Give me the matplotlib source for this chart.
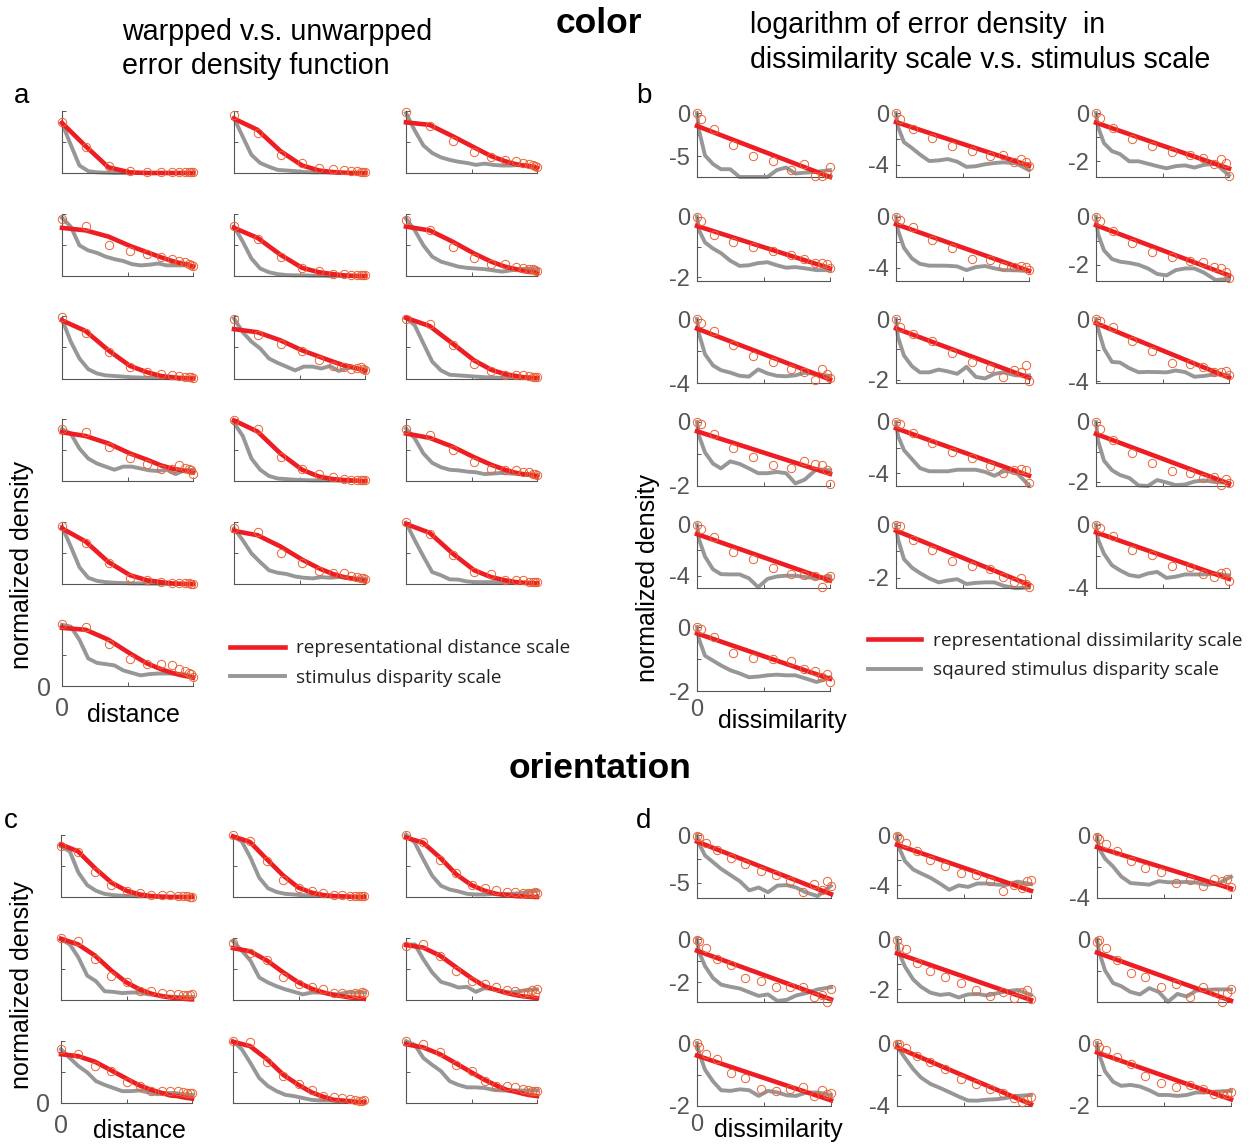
import matplotlib
matplotlib.use('Agg')
import matplotlib.pyplot as plt
from matplotlib.lines import Line2D

plt.rcParams['font.family'] = ['Liberation Sans', 'DejaVu Sans']

W, H, DPI = 1252, 1144, 100
RED = '#EE1D24'
GRAY = '#979797'
ORANGE = '#EA6235'
AXC = '#555555'
TXC = '#555555'

# ---------------- x positions ----------------
XA = [0, 0.18, 0.355, 0.52, 0.65, 0.755, 0.84, 0.895, 0.94, 0.97, 0.987, 1.0]
XB = [0, 0.032, 0.126, 0.27, 0.423, 0.57, 0.706, 0.801, 0.884, 0.941, 0.974, 1.0]
XC = [0, 0.13, 0.26, 0.385, 0.5, 0.6, 0.69, 0.77, 0.835, 0.89, 0.935, 0.965, 0.985, 1.0]
XD = [0, 0.017, 0.068, 0.148, 0.25, 0.36, 0.476, 0.593, 0.697, 0.792, 0.874, 0.931, 0.97, 1.0]
XG_LIN = [0, .067, .133, .2, .267, .333, .4, .467, .533, .6, .667, .733, .8, .867, .933, 1.0]
XG_LOG = [0, 0.015, 0.06, 0.12, 0.18, 0.25, 0.32, 0.39, 0.46, 0.53, 0.6, 0.67, 0.74, 0.81, 0.9, 1.0]

# ---------------- panel a (color, normalized density) ----------------
A_CIRC = [
    [0.82, 0.41, 0.12, 0.03, 0.01, 0.01, 0.01, 0.01, 0.01, 0.01, 0.01, 0.01],
    [0.93, 0.64, 0.29, 0.16, 0.08, 0.07, 0.05, 0.04, 0.03, 0.02, 0.01, 0.01],
    [0.98, 0.76, 0.51, 0.34, 0.25, 0.21, 0.19, 0.16, 0.14, 0.13, 0.11, 0.09],
    [0.91, 0.80, 0.49, 0.40, 0.35, 0.30, 0.27, 0.24, 0.23, 0.20, 0.18, 0.16],
    [0.80, 0.60, 0.31, 0.13, 0.08, 0.03, 0.03, 0.02, 0.02, 0.01, 0.01, 0.01],
    [0.90, 0.73, 0.47, 0.29, 0.20, 0.19, 0.15, 0.13, 0.12, 0.11, 0.10, 0.08],
    [0.98, 0.73, 0.43, 0.19, 0.11, 0.08, 0.05, 0.04, 0.03, 0.03, 0.02, 0.01],
    [0.95, 0.70, 0.56, 0.44, 0.29, 0.20, 0.19, 0.15, 0.17, 0.19, 0.15, 0.13],
    [0.95, 0.87, 0.53, 0.24, 0.12, 0.06, 0.06, 0.05, 0.04, 0.03, 0.02, 0.02],
    [0.83, 0.79, 0.55, 0.37, 0.27, 0.20, 0.20, 0.25, 0.21, 0.19, 0.18, 0.11],
    [0.98, 0.83, 0.38, 0.20, 0.11, 0.06, 0.04, 0.02, 0.02, 0.02, 0.01, 0.01],
    [0.84, 0.74, 0.49, 0.30, 0.20, 0.18, 0.17, 0.15, 0.14, 0.12, 0.11, 0.10],
    [0.93, 0.66, 0.33, 0.10, 0.07, 0.03, 0.02, 0.015, 0.01, 0.01, 0.005, 0.005],
    [0.89, 0.84, 0.50, 0.34, 0.21, 0.18, 0.17, 0.13, 0.11, 0.10, 0.09, 0.08],
    [1.00, 0.80, 0.46, 0.19, 0.16, 0.07, 0.07, 0.06, 0.03, 0.03, 0.03, 0.03],
    [0.99, 0.95, 0.68, 0.43, 0.35, 0.35, 0.33, 0.27, 0.24, 0.21, 0.19, 0.15],
]
A_RED = [
    [0.80, 0.43, 0.09, 0.01, 0, 0, 0, 0, 0, 0, 0, 0],
    [0.87, 0.69, 0.35, 0.12, 0.04, 0.015, 0.005, 0, 0, 0, 0, 0],
    [0.81, 0.77, 0.59, 0.41, 0.27, 0.19, 0.14, 0.12, 0.11, 0.10, 0.09, 0.08],
    [0.77, 0.73, 0.63, 0.48, 0.38, 0.30, 0.24, 0.21, 0.19, 0.18, 0.16, 0.15],
    [0.77, 0.61, 0.34, 0.13, 0.06, 0.03, 0.01, 0.005, 0, 0, 0, 0],
    [0.79, 0.73, 0.55, 0.36, 0.23, 0.15, 0.11, 0.08, 0.065, 0.06, 0.05, 0.04],
    [0.93, 0.76, 0.45, 0.20, 0.10, 0.04, 0.02, 0.01, 0.005, 0, 0, 0],
    [0.79, 0.74, 0.61, 0.45, 0.35, 0.27, 0.21, 0.19, 0.16, 0.14, 0.13, 0.12],
    [0.97, 0.84, 0.56, 0.29, 0.14, 0.07, 0.04, 0.02, 0.015, 0.01, 0.01, 0.01],
    [0.78, 0.72, 0.60, 0.44, 0.34, 0.25, 0.20, 0.18, 0.16, 0.15, 0.145, 0.14],
    [0.97, 0.79, 0.44, 0.18, 0.07, 0.03, 0.015, 0.01, 0.005, 0, 0, 0],
    [0.76, 0.69, 0.55, 0.38, 0.26, 0.18, 0.13, 0.11, 0.10, 0.09, 0.08, 0.07],
    [0.89, 0.68, 0.35, 0.14, 0.06, 0.03, 0.01, 0.005, 0, 0, 0, 0],
    [0.85, 0.78, 0.60, 0.39, 0.25, 0.16, 0.11, 0.09, 0.07, 0.06, 0.055, 0.05],
    [0.96, 0.82, 0.49, 0.22, 0.11, 0.06, 0.03, 0.02, 0.015, 0.01, 0.01, 0.01],
    [0.93, 0.90, 0.74, 0.52, 0.36, 0.27, 0.21, 0.18, 0.16, 0.15, 0.14, 0.13],
]
A_GRAY = [
    [0.80, 0.45, 0.12, 0.03, 0.01, 0.005, 0, 0, 0, 0, 0, 0, 0, 0, 0, 0],
    [0.88, 0.58, 0.29, 0.16, 0.10, 0.05, 0.04, 0.03, 0.015, 0.01, 0.01, 0.005, 0, 0, 0, 0],
    [0.96, 0.68, 0.44, 0.32, 0.25, 0.21, 0.18, 0.16, 0.13, 0.15, 0.13, 0.12, 0.12, 0.13, 0.12, 0.09],
    [0.93, 0.79, 0.49, 0.41, 0.37, 0.31, 0.27, 0.24, 0.19, 0.17, 0.18, 0.20, 0.17, 0.17, 0.17, 0.16],
    [0.79, 0.55, 0.28, 0.12, 0.06, 0.03, 0.015, 0.01, 0.01, 0.005, 0.005, 0, 0, 0, 0, 0],
    [0.92, 0.73, 0.49, 0.31, 0.23, 0.19, 0.15, 0.13, 0.12, 0.11, 0.09, 0.07, 0.09, 0.11, 0.12, 0.10],
    [0.95, 0.59, 0.32, 0.15, 0.08, 0.05, 0.04, 0.03, 0.02, 0.015, 0.01, 0.01, 0.005, 0, 0, 0],
    [0.96, 0.74, 0.59, 0.48, 0.32, 0.25, 0.19, 0.13, 0.19, 0.19, 0.16, 0.20, 0.12, 0.17, 0.17, 0.15],
    [0.97, 0.85, 0.56, 0.27, 0.13, 0.06, 0.05, 0.04, 0.03, 0.02, 0.015, 0.01, 0.01, 0.005, 0.005, 0],
    [0.83, 0.76, 0.52, 0.36, 0.28, 0.23, 0.18, 0.23, 0.23, 0.20, 0.17, 0.16, 0.18, 0.11, 0.17, 0.18],
    [0.93, 0.72, 0.36, 0.18, 0.08, 0.04, 0.03, 0.02, 0.015, 0.01, 0.01, 0.01, 0.005, 0, 0, 0],
    [0.84, 0.68, 0.44, 0.29, 0.22, 0.18, 0.17, 0.15, 0.14, 0.11, 0.12, 0.13, 0.12, 0.11, 0.11, 0.10],
    [0.92, 0.60, 0.27, 0.10, 0.05, 0.03, 0.02, 0.015, 0.01, 0.01, 0.005, 0.005, 0, 0, 0, 0],
    [0.89, 0.70, 0.49, 0.35, 0.22, 0.18, 0.16, 0.12, 0.10, 0.09, 0.11, 0.10, 0.11, 0.10, 0.09, 0.08],
    [0.98, 0.70, 0.44, 0.19, 0.14, 0.075, 0.07, 0.04, 0.03, 0.03, 0.03, 0.02, 0.02, 0.02, 0.02, 0.02],
    [0.98, 0.95, 0.74, 0.44, 0.37, 0.35, 0.33, 0.25, 0.21, 0.17, 0.19, 0.20, 0.20, 0.20, 0.19, 0.15],
]

# ---------------- panel b (color, log density) ----------------
B_CIRC = [
    [0, -0.7, -1.9, -3.7, -5.0, -5.5, -6.6, -5.9, -7.3, -7.3, -7.1, -6.3],
    [0, -0.45, -1.2, -1.9, -2.55, -2.9, -3.3, -3.2, -3.75, -3.55, -3.75, -4.1],
    [0, -0.21, -0.64, -1.07, -1.36, -1.6, -1.75, -1.86, -2.12, -1.89, -2.08, -2.6],
    [0, -0.14, -0.62, -0.85, -1.0, -1.14, -1.25, -1.4, -1.53, -1.53, -1.57, -1.7],
    [0, -0.27, -0.81, -1.81, -2.49, -3.3, -3.43, -3.84, -3.92, -3.86, -3.92, -4.19],
    [0, -0.17, -0.62, -1.1, -1.45, -1.66, -1.86, -1.89, -2.1, -2.15, -2.3, -2.55],
    [0, -0.26, -0.77, -1.63, -2.31, -2.68, -3.12, -3.34, -3.8, -3.12, -3.45, -3.7],
    [0, -0.25, -0.48, -0.72, -1.12, -1.41, -1.61, -1.89, -1.66, -1.73, -1.52, -2.05],
    [0, -0.11, -0.54, -1.4, -2.03, -2.8, -2.86, -3.09, -3.42, -3.38, -3.3, -3.6],
    [0, -0.05, -0.38, -0.81, -1.08, -1.33, -1.43, -1.21, -1.3, -1.35, -1.5, -1.95],
    [0, -0.14, -0.89, -1.62, -2.35, -2.78, -3.43, -4.0, -3.73, -3.65, -3.75, -4.8],
    [0, -0.23, -0.62, -1.05, -1.39, -1.64, -1.7, -1.89, -1.84, -2.1, -1.92, -2.04],
    [0, -0.35, -0.94, -2.15, -2.69, -3.36, -3.84, -3.98, -4.06, -4.9, -4.15, -4.06],
    [0, -0.06, -0.58, -0.94, -1.37, -1.57, -1.66, -1.98, -2.15, -2.01, -2.22, -2.35],
    [0, -0.24, -0.72, -1.63, -1.96, -2.61, -2.72, -3.11, -3.33, -3.07, -3.0, -3.6],
    [0, -0.05, -0.32, -0.81, -0.97, -1.0, -1.05, -1.3, -1.37, -1.55, -1.48, -1.72],
]
B_RED = [[-1.5, -7.4], [-0.7, -4.05], [-0.4, -2.3], [-0.31, -1.7], [-0.6, -4.25],
         [-0.36, -2.44], [-0.6, -3.78], [-0.31, -1.93], [-0.27, -3.76], [-0.29, -1.62],
         [-0.49, -4.19], [-0.4, -2.07], [-0.75, -4.38], [-0.23, -2.26], [-0.5, -3.44],
         [-0.2, -1.62]]
B_GRAY = [
    [0, -2.0, -4.9, -5.9, -6.5, -6.5, -7.4, -7.4, -7.4, -7.4, -6.6, -6.3, -7.0, -6.9, -6.8, -6.6],
    [0, -1.07, -2.25, -2.7, -3.2, -3.7, -3.65, -3.55, -3.75, -4.15, -4.1, -3.95, -3.85, -3.8, -3.87, -4.4],
    [0, -0.57, -1.25, -1.58, -1.7, -2.0, -2.0, -2.1, -2.2, -2.29, -2.2, -2.17, -2.26, -2.15, -2.1, -2.58],
    [0, -0.45, -0.85, -1.05, -1.2, -1.45, -1.62, -1.6, -1.53, -1.5, -1.6, -1.68, -1.66, -1.7, -1.76, -1.76],
    [0, -1.08, -2.45, -3.28, -3.7, -3.84, -3.84, -3.85, -3.9, -4.19, -3.95, -3.87, -4.05, -4.19, -4.2, -4.27],
    [0, -0.72, -1.4, -1.76, -1.87, -1.92, -2.0, -2.15, -2.38, -2.44, -2.22, -2.15, -2.15, -2.32, -2.63, -2.58],
    [0, -0.92, -2.2, -2.9, -3.2, -3.35, -3.55, -3.6, -3.15, -3.4, -3.55, -3.58, -3.52, -3.36, -3.44, -3.56],
    [0, -0.6, -1.2, -1.55, -1.75, -1.75, -1.66, -1.72, -1.8, -1.57, -1.9, -1.95, -1.8, -1.75, -1.85, -1.85],
    [0, -0.6, -1.9, -2.75, -2.79, -3.15, -3.41, -3.39, -3.4, -3.42, -3.3, -3.4, -3.7, -3.65, -3.54, -3.6],
    [0, -0.43, -0.95, -1.3, -1.45, -1.23, -1.31, -1.45, -1.6, -1.6, -1.56, -1.6, -1.92, -1.8, -1.47, -1.51],
    [0, -1.08, -2.2, -2.9, -3.6, -3.85, -3.85, -3.85, -3.73, -3.73, -3.73, -3.9, -4.2, -3.84, -3.9, -4.95],
    [0, -0.62, -1.3, -1.62, -1.78, -1.88, -2.13, -2.15, -1.95, -2.03, -2.12, -2.1, -2.0, -1.96, -2.02, -2.04],
    [0, -1.16, -2.5, -3.5, -3.88, -3.9, -3.9, -4.2, -4.9, -4.25, -4.06, -4.0, -4.0, -4.1, -4.2, -4.06],
    [0, -0.55, -1.3, -1.62, -1.82, -2.02, -2.17, -2.1, -2.05, -2.23, -2.19, -2.17, -2.17, -2.3, -2.39, -2.36],
    [0, -0.94, -1.85, -2.58, -2.9, -3.2, -3.3, -3.1, -3.0, -3.38, -3.3, -3.16, -3.16, -3.16, -3.1, -3.22],
    [0, -0.38, -0.9, -1.05, -1.2, -1.35, -1.45, -1.57, -1.55, -1.51, -1.49, -1.51, -1.51, -1.6, -1.72, -1.57],
]
B_YMIN = [-7.4, -4.93, -2.65, -2.1, -5.0, -2.65, -4.0, -2.1, -4.1, -2.0, -5.0, -2.15, -5.0, -2.4, -4.05, -2.0]
B_YLAB = [-5, -4, -2, -2, -4, -2, -4, -2, -4, -2, -4, -2, -4, -2, -4, -2]

# ---------------- panel c (orientation, normalized density) ----------------
C_CIRC = [
    [0.81, 0.72, 0.40, 0.19, 0.10, 0.07, 0.04, 0.03, 0.03, 0.02, 0.01, 0.01, 0.005, 0.0],
    [0.99, 0.89, 0.57, 0.28, 0.14, 0.09, 0.06, 0.04, 0.03, 0.02, 0.015, 0.015, 0.015, 0.02],
    [1.0, 0.88, 0.59, 0.39, 0.19, 0.14, 0.11, 0.08, 0.08, 0.07, 0.06, 0.07, 0.08, 0.06],
    [0.99, 0.95, 0.65, 0.39, 0.29, 0.14, 0.14, 0.11, 0.10, 0.09, 0.075, 0.075, 0.08, 0.09],
    [0.91, 0.76, 0.64, 0.37, 0.26, 0.21, 0.17, 0.12, 0.12, 0.10, 0.11, 0.10, 0.13, 0.12],
    [0.86, 0.90, 0.70, 0.47, 0.30, 0.26, 0.21, 0.16, 0.14, 0.12, 0.13, 0.16, 0.12, 0.17],
    [0.87, 0.78, 0.60, 0.51, 0.33, 0.27, 0.20, 0.19, 0.19, 0.20, 0.18, 0.16, 0.16, 0.16],
    [0.99, 0.98, 0.66, 0.44, 0.30, 0.21, 0.12, 0.09, 0.08, 0.07, 0.05, 0.04, 0.04, 0.05],
    [1.0, 0.95, 0.82, 0.61, 0.51, 0.35, 0.28, 0.27, 0.25, 0.23, 0.21, 0.20, 0.20, 0.20],
]
C_RED = [
    [0.84, 0.73, 0.46, 0.23, 0.10, 0.04, 0.015, 0.005, 0, 0, 0, 0, 0, 0],
    [0.97, 0.88, 0.60, 0.34, 0.15, 0.07, 0.03, 0.015, 0.01, 0.005, 0, 0, 0, 0],
    [0.95, 0.87, 0.63, 0.36, 0.19, 0.10, 0.05, 0.03, 0.015, 0.01, 0.005, 0.005, 0, 0],
    [0.98, 0.89, 0.71, 0.47, 0.28, 0.17, 0.10, 0.06, 0.04, 0.03, 0.02, 0.015, 0.01, 0.01],
    [0.83, 0.78, 0.63, 0.44, 0.28, 0.18, 0.12, 0.08, 0.06, 0.04, 0.035, 0.03, 0.025, 0.02],
    [0.88, 0.84, 0.71, 0.52, 0.35, 0.22, 0.16, 0.11, 0.08, 0.06, 0.05, 0.04, 0.035, 0.03],
    [0.78, 0.75, 0.66, 0.52, 0.39, 0.28, 0.21, 0.16, 0.12, 0.11, 0.09, 0.08, 0.075, 0.07],
    [0.98, 0.91, 0.70, 0.45, 0.29, 0.17, 0.10, 0.05, 0.04, 0.03, 0.02, 0.015, 0.015, 0.015],
    [0.94, 0.89, 0.78, 0.63, 0.49, 0.37, 0.28, 0.21, 0.18, 0.15, 0.13, 0.12, 0.115, 0.11],
]
C_GRAY = [
    [0.81, 0.73, 0.39, 0.19, 0.10, 0.05, 0.03, 0.02, 0.015, 0.01, 0.01, 0.005, 0.005, 0, 0, 0],
    [0.97, 0.89, 0.63, 0.31, 0.14, 0.08, 0.05, 0.04, 0.03, 0.02, 0.015, 0.01, 0.01, 0.005, 0.005, 0.005],
    [1.0, 0.87, 0.60, 0.34, 0.18, 0.12, 0.09, 0.05, 0.04, 0.04, 0.05, 0.05, 0.05, 0.06, 0.08, 0.10],
    [0.97, 0.89, 0.68, 0.39, 0.30, 0.14, 0.13, 0.11, 0.12, 0.12, 0.09, 0.08, 0.06, 0.05, 0.05, 0.05],
    [0.94, 0.79, 0.63, 0.36, 0.28, 0.22, 0.17, 0.13, 0.09, 0.12, 0.12, 0.10, 0.09, 0.12, 0.12, 0.12],
    [0.88, 0.89, 0.65, 0.44, 0.29, 0.25, 0.20, 0.21, 0.13, 0.19, 0.17, 0.14, 0.12, 0.14, 0.16, 0.17],
    [0.86, 0.72, 0.59, 0.49, 0.35, 0.29, 0.24, 0.19, 0.19, 0.20, 0.17, 0.14, 0.16, 0.16, 0.14, 0.13],
    [0.99, 0.86, 0.64, 0.40, 0.27, 0.19, 0.13, 0.11, 0.08, 0.05, 0.04, 0.04, 0.03, 0.02, 0.015, 0.015],
    [0.99, 0.93, 0.72, 0.61, 0.51, 0.35, 0.29, 0.25, 0.25, 0.24, 0.21, 0.20, 0.20, 0.20, 0.20, 0.20],
]

# ---------------- panel d (orientation, log density) ----------------
D_CIRC = [
    [-0.1, -0.24, -0.79, -1.61, -2.4, -2.99, -3.78, -4.23, -4.81, -5.95, -5.15, -5.74, -4.81, -5.3],
    [-0.1, -0.21, -0.6, -1.25, -1.95, -2.47, -3.0, -3.2, -3.65, -4.43, -3.98, -4.24, -3.65, -3.6],
    [-0.1, -0.27, -0.56, -1.04, -1.67, -2.08, -2.35, -3.06, -2.85, -3.23, -2.81, -2.92, -2.81, -3.3],
    [-0.05, -0.09, -0.4, -0.94, -1.2, -1.81, -1.92, -2.22, -2.19, -2.19, -2.65, -2.58, -2.9, -2.3],
    [-0.04, -0.3, -0.41, -0.97, -1.26, -1.52, -1.76, -2.03, -2.27, -2.09, -2.35, -2.09, -2.02, -2.4],
    [-0.1, -0.04, -0.37, -0.83, -1.36, -1.52, -1.89, -1.79, -2.31, -1.92, -2.09, -2.5, -2.16, -2.0],
    [-0.01, -0.12, -0.35, -0.51, -0.94, -1.12, -1.47, -1.52, -1.47, -1.41, -1.68, -1.5, -1.61, -1.6],
    [-0.06, -0.06, -0.34, -0.85, -1.19, -1.66, -2.3, -2.62, -2.94, -3.15, -3.47, -3.72, -3.57, -3.43],
    [-0.01, -0.14, -0.22, -0.46, -0.67, -1.06, -1.26, -1.39, -1.33, -1.45, -1.61, -1.63, -1.61, -1.57],
]
D_RED = [[-0.69, -6.19], [-0.78, -4.43], [-0.77, -3.4], [-0.54, -2.78], [-0.57, -2.42],
         [-0.54, -2.45], [-0.4, -1.82], [-0.28, -3.89], [-0.3, -1.79]]
D_GRAY = [
    [0, -0.9, -2.15, -2.85, -3.55, -4.2, -4.85, -5.8, -5.5, -6.0, -5.3, -5.25, -5.5, -6.0, -6.4, -5.33],
    [0, -1.0, -2.08, -2.73, -3.05, -3.4, -3.85, -4.35, -4.0, -4.12, -3.85, -3.85, -3.93, -3.98, -3.7, -3.9],
    [0, -0.85, -1.5, -2.0, -2.63, -3.05, -3.1, -3.15, -2.93, -3.0, -3.0, -2.98, -3.02, -3.15, -3.1, -2.65],
    [0, -0.6, -1.25, -1.8, -2.1, -2.2, -2.28, -2.45, -2.62, -2.55, -2.85, -2.8, -2.6, -2.5, -2.32, -2.22],
    [0, -0.55, -1.1, -1.6, -1.9, -2.13, -2.22, -2.18, -2.32, -2.2, -2.18, -2.24, -2.16, -2.08, -2.02, -2.22],
    [0, -0.5, -1.25, -1.75, -1.87, -2.1, -2.2, -1.95, -2.1, -2.49, -2.18, -2.28, -2.05, -2.02, -2.0, -2.0],
    [0, -0.3, -0.85, -1.22, -1.5, -1.52, -1.47, -1.5, -1.68, -1.52, -1.57, -1.66, -1.68, -1.58, -1.57, -1.65],
    [0, -0.4, -0.95, -1.65, -2.2, -2.6, -2.85, -3.12, -3.4, -3.65, -3.66, -3.6, -3.57, -3.5, -3.36, -3.3],
    [0, -0.35, -0.9, -1.23, -1.36, -1.33, -1.38, -1.5, -1.65, -1.65, -1.68, -1.65, -1.57, -1.57, -1.54, -1.52],
]
D_YMIN = [-6.6, -5.0, -4.0, -2.9, -2.5, -2.5, -2.0, -4.0, -2.0]
D_YLAB = [-5, -4, -4, -2, -2, None, -2, -4, -2]

# ---------------- layout (pixels) ----------------
A_COLS, A_W = [62, 234, 406], 131
A_BOTTOMS, A_H = [173, 276, 378.5, 481, 584, 686], 62.5
B_COLS, B_W = [697, 896, 1096], 133
B_TOPS, B_H = [113, 216.5, 319, 422, 524.5, 627], 64
C_COLS, C_W = [61, 233, 406], 131
C_BOTTOMS, C_H = [897, 1000, 1103], 62.5
D_COLS, D_W = [697, 897, 1097], 134
D_TOPS, D_H = [835, 939, 1043], 63

fig = plt.figure(figsize=(W / DPI, H / DPI), dpi=DPI)
fig.patch.set_facecolor('white')


def add_ax(left, top, w, h):
    return fig.add_axes([left / W, 1 - (top + h) / H, w / W, h / H])


def style(ax, ylo, yhi, yticks, ylabels, xlabels, ypad=5, xpad=6, fs=15):
    ax.set_xlim(0, 1)
    ax.set_ylim(ylo, yhi)
    for s in ['top', 'right']:
        ax.spines[s].set_visible(False)
    for s in ['left', 'bottom']:
        ax.spines[s].set_color(AXC)
        ax.spines[s].set_linewidth(0.8)
    ax.set_yticks(yticks)
    ax.set_yticklabels(ylabels)
    ax.set_xticks([0, 0.5, 1])
    ax.set_xticklabels(xlabels)
    ax.tick_params(axis='both', direction='in', length=3, width=0.7, colors=AXC,
                   labelcolor=TXC, labelsize=fs)
    ax.tick_params(axis='y', pad=ypad)
    ax.tick_params(axis='x', pad=xpad)
    ax.set_facecolor('none')


def draw(ax, xg, g, xr, r, xc, c):
    ax.plot(xg, g, color=GRAY, lw=2.8, solid_joinstyle='round', clip_on=False, zorder=2)
    ax.plot(xr, r, color=RED, lw=3.3, solid_joinstyle='round', clip_on=False, zorder=3)
    ax.plot(xc, c, 'o', mfc='none', mec=ORANGE, ms=6.0, mew=0.7, clip_on=False, zorder=4)


# panel a
for i in range(16):
    r, col = divmod(i, 3)
    ax = add_ax(A_COLS[col], A_BOTTOMS[r] - A_H, A_W, A_H)
    last = (i == 15)
    draw(ax, XG_LIN, A_GRAY[i], XA, A_RED[i], XA, A_CIRC[i])
    style(ax, 0, 1, [0, 0.5, 1], ['0' if last else '', '', ''],
          ['0' if last else '', '', ''], ypad=8, xpad=8, fs=18)

# panel b
for i in range(16):
    r, col = divmod(i, 3)
    ax = add_ax(B_COLS[col], B_TOPS[r], B_W, B_H)
    last = (i == 15)
    draw(ax, XG_LOG, B_GRAY[i], [0, 1], B_RED[i], XB, B_CIRC[i])
    lab = B_YLAB[i]
    style(ax, B_YMIN[i], 0, [lab, lab / 2, 0], [str(lab), '', '0'],
          ['0' if last else '', '', ''], ypad=5, xpad=6, fs=17)

# panel c
for i in range(9):
    r, col = divmod(i, 3)
    ax = add_ax(C_COLS[col], C_BOTTOMS[r] - C_H, C_W, C_H)
    last = (i == 6)
    draw(ax, XG_LIN, C_GRAY[i], XC, C_RED[i], XC, C_CIRC[i])
    style(ax, 0, 1, [0, 0.5, 1], ['0' if last else '', '', ''],
          ['0' if last else '', '', ''], ypad=8, xpad=8, fs=18)

# panel d
for i in range(9):
    r, col = divmod(i, 3)
    ax = add_ax(D_COLS[col], D_TOPS[r], D_W, D_H)
    last = (i == 6)
    draw(ax, XG_LOG, D_GRAY[i], [0, 1], D_RED[i], XD, D_CIRC[i])
    lab = D_YLAB[i]
    if lab is None:
        yt, yl = [-1.25, 0], ['', '0']
    else:
        yt, yl = [lab, lab / 2, 0], [str(lab), '', '0']
    style(ax, D_YMIN[i], 0, yt, yl, ['0' if last else '', '', ''], ypad=5, xpad=6, fs=17)


def ftext(x, y, s, **kw):
    fig.text(x / W, 1 - y / H, s, **kw)


# titles
ftext(122, 40, 'warpped v.s. unwarpped', fontsize=20.6, va='baseline', ha='left')
ftext(122, 74, 'error density function', fontsize=20.6, va='baseline', ha='left')
ftext(599, 33, 'color', fontsize=25.5, fontweight='bold', va='baseline', ha='center')
ftext(750, 33, 'logarithm of error density  in', fontsize=20.6, va='baseline', ha='left')
ftext(750, 68, 'dissimilarity scale v.s. stimulus scale', fontsize=20.6, va='baseline', ha='left')
ftext(600, 778, 'orientation', fontsize=25.5, fontweight='bold', va='baseline', ha='center')

# panel letters
ftext(14, 103, 'a', fontsize=20, va='baseline')
ftext(636, 103, 'b', fontsize=20, va='baseline')
ftext(4, 828, 'c', fontsize=20, va='baseline')
ftext(636, 828, 'd', fontsize=20, va='baseline')

# axis labels
ftext(22, 565, 'normalized density', fontsize=18, rotation=90, ha='center', va='center')
ftext(648, 578, 'normalized density', fontsize=18, rotation=90, ha='center', va='center')
ftext(22, 985, 'normalized density', fontsize=18, rotation=90, ha='center', va='center')
ftext(87, 722, 'distance', fontsize=18, va='baseline')
ftext(93, 1138, 'distance', fontsize=18, va='baseline')
ftext(718, 728, 'dissimilarity', fontsize=18, va='baseline')
ftext(714, 1137, 'dissimilarity', fontsize=18, va='baseline')

# legends
h_red = Line2D([], [], color=RED, lw=3.3)
h_gray = Line2D([], [], color=GRAY, lw=2.8)
leg_kw = dict(loc='center left', frameon=False, borderpad=0, borderaxespad=0,
              handletextpad=0.62, labelspacing=0.62)
lg1 = fig.legend([h_red, h_gray], ['representational distance scale', 'stimulus disparity scale'],
                 bbox_to_anchor=(230 / W, 1 - 663 / H), handlelength=2.9,
                 prop={'family': 'Open Sans', 'size': 13.6}, **leg_kw)
lg2 = fig.legend([h_red, h_gray], ['representational dissimilarity scale', 'sqaured stimulus disparity scale'],
                 bbox_to_anchor=(868 / W, 1 - 655.5 / H), handlelength=2.75,
                 prop={'family': 'Open Sans', 'size': 13.8}, **leg_kw)
for lg in (lg1, lg2):
    for t in lg.get_texts():
        t.set_color('#222222')

fig.savefig('out.png', dpi=DPI, facecolor='white')
